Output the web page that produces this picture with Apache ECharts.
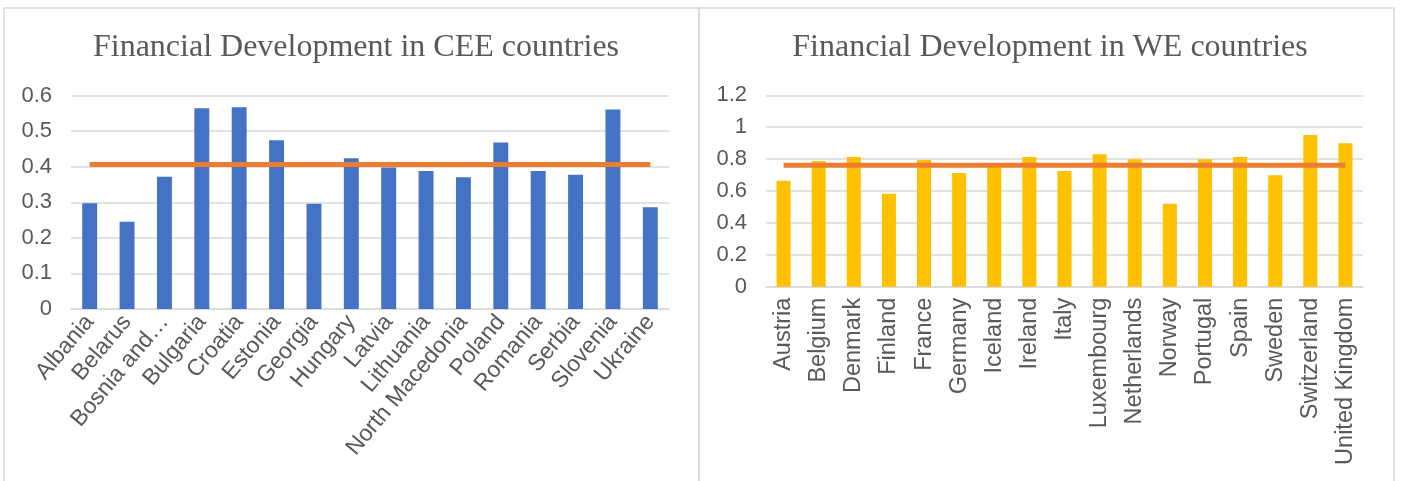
<!DOCTYPE html>
<html>
<head>
<meta charset="utf-8">
<script src="https://cdn.jsdelivr.net/npm/echarts@6/dist/echarts.min.js"></script>
<style>
  html, body { margin: 0; padding: 0; background: #ffffff; }
  #chart { width: 1404px; height: 481px; }
</style>
</head>
<body>
<div id="chart"></div>
<script>
// Financial development index, Central & Eastern Europe
const ceeCountries = ['Albania', 'Belarus', 'Bosnia and Herzegovina', 'Bulgaria', 'Croatia', 'Estonia',
  'Georgia', 'Hungary', 'Latvia', 'Lithuania', 'North Macedonia', 'Poland', 'Romania', 'Serbia',
  'Slovenia', 'Ukraine'];
const ceeValues = [0.297, 0.245, 0.372, 0.564, 0.567, 0.474, 0.296, 0.424, 0.398, 0.388, 0.370,
  0.468, 0.388, 0.377, 0.561, 0.286];
const ceeAverage = [0.406, 0.406, 0.406, 0.406, 0.406, 0.406, 0.406, 0.406, 0.406, 0.406, 0.406,
  0.406, 0.406, 0.406, 0.406, 0.406];

// Financial development index, Western Europe
const weCountries = ['Austria', 'Belgium', 'Denmark', 'Finland', 'France', 'Germany', 'Iceland',
  'Ireland', 'Italy', 'Luxembourg', 'Netherlands', 'Norway', 'Portugal', 'Spain', 'Sweden',
  'Switzerland', 'United Kingdom'];
const weValues = [0.665, 0.788, 0.813, 0.583, 0.794, 0.713, 0.755, 0.813, 0.726, 0.830, 0.799,
  0.520, 0.799, 0.813, 0.698, 0.951, 0.899];
const weAverage = [0.761, 0.761, 0.761, 0.761, 0.761, 0.761, 0.761, 0.761, 0.761, 0.761, 0.761,
  0.761, 0.761, 0.761, 0.761, 0.761, 0.761];

const ceeTicks = { min: 0, max: 0.6, interval: 0.1 };
const weTicks = { min: 0, max: 1.2, interval: 0.2 };

const textGray = '#595959';
const gridGray = '#d9d9d9';
const sans = '"Liberation Sans", Arial, sans-serif';
const serif = '"Liberation Serif", "Times New Roman", serif';

function shortName(name) {
  return name.length > 15 ? name.slice(0, 10) + '\u2026' : name;
}

function valueAxis(gridIndex, ticks) {
  return {
    type: 'value', gridIndex: gridIndex,
    min: ticks.min, max: ticks.max, interval: ticks.interval,
    axisLine: { show: false }, axisTick: { show: false },
    splitLine: { lineStyle: { color: gridGray, width: 1.5 } },
    axisLabel: { color: textGray, fontFamily: sans, fontSize: 22, margin: 19 }
  };
}

const chart = echarts.init(document.getElementById('chart'), null, { renderer: 'canvas' });
chart.setOption({
  animation: false,
  backgroundColor: '#ffffff',
  graphic: [
    { type: 'rect', shape: { x: 4, y: 8, width: 695, height: 490 },
      style: { fill: 'none', stroke: gridGray, lineWidth: 1.5 }, silent: true },
    { type: 'rect', shape: { x: 699, y: 8, width: 695, height: 490 },
      style: { fill: 'none', stroke: gridGray, lineWidth: 1.5 }, silent: true }
  ],
  title: [
    { text: 'Financial Development in CEE countries', left: 351, top: 27, textAlign: 'center',
      textStyle: { fontFamily: serif, fontSize: 32, fontWeight: 'normal', color: textGray } },
    { text: 'Financial Development in WE countries', left: 1045, top: 27, textAlign: 'center',
      textStyle: { fontFamily: serif, fontSize: 32, fontWeight: 'normal', color: textGray } }
  ],
  grid: [
    { left: 71, top: 95.5, width: 598, height: 213.5 },
    { left: 766, top: 95.3, width: 597, height: 191.4 }
  ],
  xAxis: [
    { type: 'category', gridIndex: 0, data: ceeCountries,
      axisLine: { lineStyle: { color: gridGray, width: 1.5 } }, axisTick: { show: false },
      axisLabel: { interval: 0, rotate: 50, margin: 9, color: textGray, fontFamily: sans,
        fontSize: 23, formatter: shortName } },
    { type: 'category', gridIndex: 1, data: weCountries,
      axisLine: { lineStyle: { color: gridGray, width: 1.5 } }, axisTick: { show: false },
      axisLabel: { interval: 0, rotate: 90, margin: 11, color: textGray, fontFamily: sans,
        fontSize: 23.5 } }
  ],
  yAxis: [valueAxis(0, ceeTicks), valueAxis(1, weTicks)],
  series: [
    { type: 'bar', xAxisIndex: 0, yAxisIndex: 0, data: ceeValues, barWidth: '40%',
      itemStyle: { color: '#4472C4' } },
    { type: 'line', xAxisIndex: 0, yAxisIndex: 0, data: ceeAverage, showSymbol: false,
      lineStyle: { color: '#ED7D31', width: 5 } },
    { type: 'bar', xAxisIndex: 1, yAxisIndex: 1, data: weValues, barWidth: '40%',
      itemStyle: { color: '#FFC000' } },
    { type: 'line', xAxisIndex: 1, yAxisIndex: 1, data: weAverage, showSymbol: false,
      lineStyle: { color: '#ED7D31', width: 5 } }
  ]
});
</script>
</body>
</html>
